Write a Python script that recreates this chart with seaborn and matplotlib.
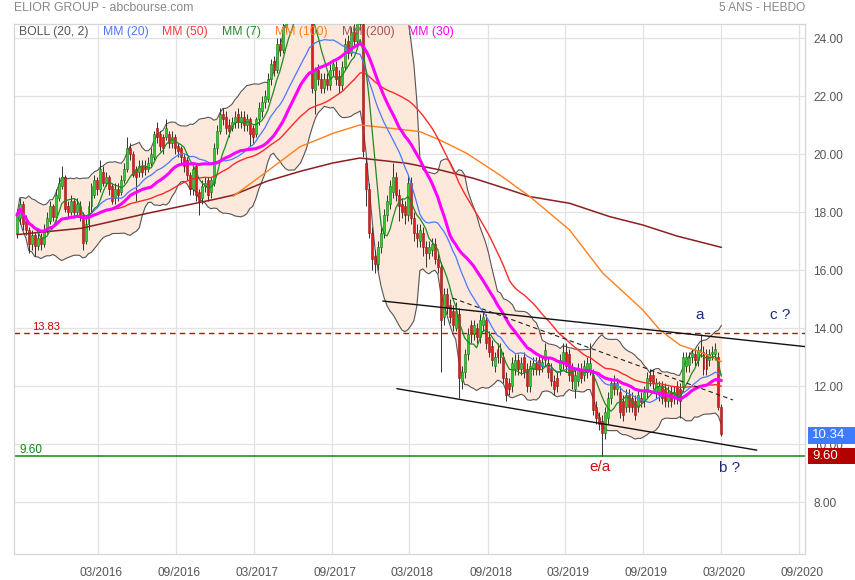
import numpy as np
import pandas as pd
import seaborn as sns
import matplotlib
matplotlib.use("Agg")
import matplotlib.pyplot as plt
import matplotlib.transforms as mtransforms
from matplotlib.patches import Rectangle

sns.set_style("white")
plt.rcParams['font.family'] = ['Liberation Sans', 'DejaVu Sans']

# ---------------------------------------------------------------------------- #
#                         Weekly candles (ELIOR GROUP)                          #
# ---------------------------------------------------------------------------- #
first_week = "2015-08-24"

opens = [
    17.3, 17.8, 18.3, 17.7, 17.4, 16.9, 17.2, 16.85, 17.1, 16.9,
    17.4, 17.7, 18.2, 17.85, 18.5, 18.9, 19.2, 18.2, 18.0, 18.4,
    18.0, 18.2, 17.9, 17.0, 17.6, 18.2, 18.6, 19.1, 18.8, 19.4,
    19.0, 19.2, 18.9, 18.5, 18.8, 18.7, 19.1, 19.5, 20.2, 20.0,
    19.5, 19.4, 19.6, 19.6, 19.5, 19.7, 19.9, 20.9, 20.7, 20.6,
    20.6, 20.7, 20.4, 20.6, 20.3, 20.2, 19.9, 19.8, 19.3, 18.8,
    19.6, 18.7, 18.5, 18.9, 19.1, 18.7, 19.0, 20.2, 20.8, 21.4,
    21.3, 21.0, 20.9, 21.1, 21.4, 21.1, 21.3, 21.0, 21.2, 20.9,
    20.7, 21.2, 21.5, 21.8, 21.9, 22.6, 23.2, 22.9, 23.8, 23.6,
    24.4, 24.9, 25.2, 25.0, 25.4, 25.1, 25.3, 25.0, 24.9, 25.1,
    22.2, 22.9, 22.6, 22.3, 22.6, 22.4, 22.9, 23.0, 22.7, 22.4,
    23.0, 23.9, 23.5, 24.2, 23.9, 24.5, 24.5, 19.7, 18.8, 17.3,
    16.5, 16.2, 16.8, 17.3, 17.9, 18.3, 18.7, 19.2, 18.6, 18.3,
    18.2, 17.9, 19.0, 17.8, 17.3, 17.0, 17.3, 16.8, 16.6, 16.7,
    16.9, 16.4, 16.1, 14.4, 15.2, 14.8, 14.6, 14.0, 14.5, 12.2,
    12.5, 13.1, 14.1, 13.8, 14.0, 13.7, 14.1, 14.3, 13.7, 13.4,
    12.7, 13.3, 13.0, 13.0, 12.3, 12.1, 12.0, 12.6, 12.9, 12.6,
    13.0, 12.6, 12.0, 12.6, 12.8, 12.9, 12.7, 12.9, 12.8, 12.6,
    12.2, 12.3, 12.6, 12.8, 13.2, 13.1, 12.6, 11.9, 12.2, 12.6,
    12.4, 12.5, 12.6, 12.4, 11.3, 10.95, 10.8, 10.4, 10.9, 11.6,
    12.1, 11.9, 11.8, 11.5, 11.3, 11.7, 11.6, 11.5, 11.3, 11.6,
    11.5, 11.8, 12.4, 12.4, 11.8, 11.7, 12.0, 11.9, 11.5, 11.8,
    11.6, 12.0, 11.9, 12.0, 12.7, 12.75, 13.0, 13.1, 12.9, 13.2,
    13.2, 13.1, 12.9, 13.1, 13.1, 13.0, 11.3,
]
highs = [
    18.1, 18.5, 18.4, 17.9, 17.5, 17.4, 17.3, 17.3, 17.3, 17.6,
    18.0, 18.4, 18.3, 18.8, 19.2, 19.6, 19.3, 18.4, 18.6, 18.5,
    18.5, 18.4, 18.0, 17.8, 18.4, 19.0, 19.3, 19.2, 19.8, 19.6,
    19.4, 19.3, 19.0, 19.0, 19.0, 19.3, 19.7, 20.6, 20.4, 20.1,
    19.6, 19.8, 19.8, 19.8, 19.9, 20.2, 20.8, 21.1, 20.8, 20.7,
    21.2, 20.8, 20.8, 20.7, 20.4, 20.3, 20.0, 19.9, 19.4, 19.6,
    19.7, 18.8, 19.1, 19.2, 19.2, 19.2, 20.4, 21.0, 21.6, 21.6,
    21.5, 21.2, 21.3, 21.5, 21.6, 21.5, 21.5, 21.4, 21.3, 21.0,
    21.3, 21.8, 22.0, 22.2, 22.8, 23.3, 23.4, 24.0, 24.0, 24.6,
    25.1, 25.5, 25.5, 25.7, 25.7, 25.5, 25.6, 25.3, 25.3, 25.2,
    23.0, 23.1, 22.8, 22.8, 22.8, 23.1, 23.3, 23.2, 22.9, 23.2,
    24.0, 24.1, 24.4, 24.5, 25.0, 25.1, 24.8, 19.9, 19.0, 17.5,
    16.7, 17.0, 17.5, 18.1, 18.6, 19.1, 19.7, 19.4, 18.8, 18.5,
    18.4, 19.3, 19.2, 18.0, 17.6, 17.6, 17.5, 17.0, 17.0, 17.1,
    17.1, 16.6, 16.3, 15.4, 15.4, 15.0, 14.8, 14.9, 14.7, 12.7,
    13.3, 14.0, 14.3, 14.3, 14.2, 14.5, 14.6, 14.5, 13.9, 13.6,
    13.2, 13.5, 13.5, 13.2, 12.5, 12.3, 13.0, 13.1, 13.1, 13.0,
    13.2, 12.8, 12.9, 13.0, 13.0, 13.1, 13.0, 13.5, 13.0, 12.8,
    12.4, 12.5, 13.1, 13.5, 13.5, 13.3, 12.8, 12.6, 12.8, 12.8,
    12.9, 13.0, 13.5, 12.6, 11.5, 11.1, 11.0, 11.3, 11.8, 12.3,
    12.4, 12.3, 12.0, 11.7, 11.9, 11.9, 11.8, 11.7, 11.9, 11.8,
    12.0, 12.5, 12.6, 12.6, 12.3, 12.2, 12.2, 12.1, 12.0, 12.0,
    12.0, 12.2, 12.1, 13.2, 13.2, 13.2, 13.3, 13.3, 13.4, 13.8,
    13.4, 13.3, 13.3, 13.4, 13.5, 13.2, 11.4,
]
lows = [
    17.1, 17.6, 17.4, 17.2, 16.6, 16.7, 16.5, 16.7, 16.7, 16.8,
    17.3, 17.6, 17.7, 17.7, 18.4, 18.8, 18.0, 17.8, 17.9, 17.8,
    17.9, 17.7, 16.7, 16.9, 17.4, 18.0, 18.5, 18.6, 18.7, 18.9,
    18.9, 18.6, 18.3, 18.3, 18.4, 18.6, 19.0, 19.4, 19.8, 19.2,
    18.4, 19.2, 19.2, 19.3, 19.4, 19.6, 19.8, 20.4, 20.1, 20.0,
    20.5, 20.2, 20.2, 20.0, 19.9, 19.7, 19.4, 19.1, 18.6, 18.6,
    18.4, 17.9, 18.3, 18.7, 18.4, 18.5, 18.9, 20.0, 20.7, 21.0,
    20.7, 20.6, 20.8, 20.9, 20.9, 20.9, 20.8, 20.8, 20.3, 20.4,
    20.6, 21.0, 21.3, 21.6, 21.8, 22.4, 22.7, 22.8, 23.4, 23.5,
    24.2, 24.6, 24.8, 24.8, 24.9, 24.8, 24.8, 24.7, 24.7, 22.1,
    21.4, 22.4, 22.1, 22.1, 22.2, 22.2, 22.7, 22.4, 22.1, 22.2,
    22.9, 23.3, 23.4, 23.7, 23.8, 24.3, 19.9, 18.2, 17.1, 16.0,
    15.9, 16.0, 16.6, 17.1, 17.7, 18.1, 18.5, 18.4, 17.7, 17.8,
    17.6, 17.7, 17.6, 17.0, 16.8, 16.8, 16.5, 16.1, 16.4, 16.5,
    16.2, 15.9, 12.5, 14.1, 14.5, 14.2, 13.9, 13.9, 11.6, 11.9,
    12.3, 12.9, 13.5, 13.6, 13.5, 13.5, 13.9, 13.3, 13.0, 12.7,
    12.5, 12.8, 12.8, 12.1, 11.5, 11.7, 11.8, 12.4, 12.4, 12.4,
    12.3, 11.8, 11.8, 12.4, 12.4, 12.4, 12.5, 12.7, 12.3, 12.0,
    11.7, 11.8, 12.4, 12.6, 12.5, 12.2, 11.9, 11.6, 12.0, 12.1,
    12.2, 12.3, 12.4, 11.0, 10.7, 10.5, 9.6, 10.2, 10.7, 11.4,
    11.7, 11.7, 10.9, 10.8, 11.1, 11.1, 11.1, 10.85, 11.1, 11.3,
    11.3, 11.6, 12.0, 11.9, 11.6, 11.5, 11.4, 11.3, 11.3, 11.3,
    11.4, 11.4, 10.9, 11.8, 12.5, 12.5, 12.8, 12.7, 12.7, 13.0,
    12.4, 12.4, 12.7, 12.9, 12.9, 11.2, 10.3,
]
closes = [
    17.9, 18.3, 17.6, 17.4, 16.9, 17.2, 16.85, 17.1, 16.9, 17.4,
    17.8, 18.2, 17.85, 18.6, 19.0, 19.2, 18.1, 18.0, 18.4, 18.0,
    18.3, 17.9, 16.95, 17.6, 18.2, 18.9, 19.1, 18.8, 19.5, 19.0,
    19.2, 18.8, 18.4, 18.8, 18.6, 19.1, 19.5, 20.2, 20.0, 19.3,
    19.2, 19.6, 19.4, 19.5, 19.7, 20.0, 20.7, 20.6, 20.3, 20.2,
    20.9, 20.4, 20.6, 20.2, 20.1, 19.9, 19.6, 19.3, 18.8, 19.5,
    18.6, 18.4, 18.9, 19.0, 18.6, 19.1, 20.2, 20.8, 21.4, 21.2,
    20.9, 20.8, 21.1, 21.3, 21.1, 21.3, 21.0, 21.2, 20.7, 20.6,
    21.2, 21.6, 21.8, 22.0, 22.6, 23.1, 22.9, 23.8, 23.6, 24.4,
    24.9, 25.2, 25.0, 25.4, 25.1, 25.3, 25.0, 24.9, 25.1, 22.3,
    22.9, 22.6, 22.3, 22.6, 22.4, 22.9, 23.1, 22.6, 22.4, 23.0,
    23.8, 23.5, 24.2, 23.9, 24.6, 24.7, 20.1, 18.8, 17.3, 16.4,
    16.2, 16.8, 17.3, 17.9, 18.4, 18.9, 19.2, 18.6, 18.2, 18.0,
    17.9, 19.0, 17.8, 17.3, 17.1, 17.4, 16.8, 16.6, 16.8, 16.9,
    16.4, 16.1, 14.3, 15.2, 14.7, 14.4, 14.1, 14.6, 12.3, 12.5,
    13.1, 13.8, 13.8, 14.1, 13.7, 14.3, 14.4, 13.5, 13.2, 12.9,
    13.0, 13.0, 13.3, 12.3, 11.7, 11.9, 12.8, 12.9, 12.6, 12.8,
    12.5, 12.0, 12.7, 12.8, 12.6, 12.6, 12.85, 13.25, 12.5, 12.2,
    11.9, 12.0, 12.9, 13.2, 12.7, 12.4, 12.2, 12.4, 12.6, 12.3,
    12.7, 12.8, 12.8, 11.2, 10.9, 10.7, 10.4, 11.1, 11.6, 12.1,
    11.9, 12.1, 11.1, 11.0, 11.7, 11.3, 11.3, 11.0, 11.7, 11.45,
    11.8, 12.3, 12.2, 12.1, 12.1, 12.0, 11.6, 11.5, 11.8, 11.5,
    11.8, 11.6, 11.5, 13.0, 13.0, 13.0, 13.15, 12.9, 13.25, 13.3,
    12.6, 12.6, 13.1, 13.2, 13.3, 11.3, 10.34,
]

# long moving averages (history before the window)
mm100_dates = ["2017-01-12", "2017-04-01", "2017-06-18", "2017-09-03", "2017-11-05",
               "2018-01-14", "2018-03-26", "2018-05-12", "2018-07-14", "2018-09-30",
               "2018-12-09", "2019-03-12", "2019-05-29", "2019-08-31", "2019-10-10",
               "2019-11-26", "2020-01-12", "2020-03-02"]
mm100_values = [18.55, 19.40, 20.26, 20.72, 21.01,
                20.90, 20.78, 20.49, 20.03, 19.28,
                18.54, 17.39, 15.90, 14.63, 13.94,
                13.42, 13.19, 12.85]
mm200_dates = ["2015-08-24", "2016-01-23", "2016-06-27", "2016-12-01", "2017-01-12",
               "2017-04-01", "2017-06-18", "2017-09-03", "2017-11-05", "2018-02-23",
               "2018-05-12", "2018-07-30", "2018-09-30", "2018-12-09", "2019-03-12",
               "2019-06-14", "2019-08-31", "2019-11-19", "2020-03-02"]
mm200_values = [17.23, 17.45, 17.97, 18.45, 18.59,
                19.07, 19.41, 19.70, 19.87, 19.69,
                19.46, 19.17, 18.88, 18.54, 18.31,
                17.85, 17.56, 17.18, 16.79]

# drawn trend lines and levels
channel_top_dates = ["2017-12-29", "2020-09-14"]
channel_top_prices = [14.94, 13.37]
channel_bottom_dates = ["2018-01-31", "2020-05-24"]
channel_bottom_prices = [11.92, 9.80]
dashed_dates = ["2018-06-11", "2020-03-29"]
dashed_prices = [15.04, 11.53]
resistance = 13.83
support = 9.60
last_price = 10.34

wave_labels = ["a", "c ?", "b ?", "e/a"]
wave_dates = ["2020-01-10", "2020-07-17", "2020-03-20", "2019-05-22"]
wave_prices = [14.46, 14.46, 9.18, 9.22]

legend_labels = ["BOLL (20, 2)", "MM (20)", "MM (50)", "MM (7)", "MM (100)", "MM (200)", "MM (30)"]
legend_colors = ["#555555", "#4a78ff", "#ff3b3b", "#2a8a2a", "#ff7f1e", "#a65454", "#ff00ff"]

y_ticks = [8, 10, 12, 14, 16, 18, 20, 22, 24]
x_ticks = ["2016-03-01", "2016-09-01", "2017-03-01", "2017-09-01", "2018-03-01",
           "2018-09-01", "2019-03-01", "2019-09-01", "2020-03-01", "2020-09-01"]

# ---------------------------------------------------------------------------- #
#                                 Indicators                                   #
# ---------------------------------------------------------------------------- #
df = pd.DataFrame({
    "date": pd.date_range(first_week, periods=len(closes), freq="7D"),
    "open": opens, "high": highs, "low": lows, "close": closes,
})
for n in (7, 20, 30, 50):
    df[f"mm{n}"] = df["close"].rolling(n, min_periods=1).mean()
sd = df["close"].rolling(20, min_periods=1).std(ddof=0)
df["boll_up"] = df["mm20"] + 2 * sd
df["boll_dn"] = df["mm20"] - 2 * sd

mm100 = pd.DataFrame({"date": pd.to_datetime(mm100_dates), "value": mm100_values})
mm200 = pd.DataFrame({"date": pd.to_datetime(mm200_dates), "value": mm200_values})

# ---------------------------------------------------------------------------- #
#                                   Figure                                     #
# ---------------------------------------------------------------------------- #
W, H = 855, 580
fig = plt.figure(figsize=(W / 100, H / 100), dpi=100)
ax = fig.add_axes([14.3 / W, 1 - 554.3 / H, 790.7 / W, 530.3 / H])

# bollinger band
ax.fill_between(df["date"], df["boll_dn"], df["boll_up"], color="#fde8dc", lw=0, zorder=1)
sns.lineplot(data=df, x="date", y="boll_up", ax=ax, color="#555555", lw=0.8, zorder=2)
sns.lineplot(data=df, x="date", y="boll_dn", ax=ax, color="#555555", lw=0.8, zorder=2)

# levels
ax.axhline(resistance, color="#cc0000", lw=1, ls=(0, (4, 3)), zorder=2)
ax.axhline(support, color="#118811", lw=1.1, zorder=2)

# candles
up = df["close"] >= df["open"]
ax.vlines(df["date"], df["low"], df["high"], color="#333333", lw=0.7, zorder=3)
ax.bar(df["date"][up], (df["close"] - df["open"])[up], bottom=df["open"][up],
       width=4.6, color="#33cc33", edgecolor="#117711", lw=0.4, zorder=3.5)
ax.bar(df["date"][~up], (df["open"] - df["close"])[~up], bottom=df["close"][~up],
       width=4.6, color="#e01d1d", edgecolor="#991111", lw=0.4, zorder=3.5)

# moving averages
sns.lineplot(data=mm200, x="date", y="value", ax=ax, color="#8b1f1f", lw=1.1, zorder=4)
sns.lineplot(data=mm100, x="date", y="value", ax=ax, color="#ff7f1e", lw=1.0, zorder=4)
sns.lineplot(data=df, x="date", y="mm50", ax=ax, color="#ff2a2a", lw=1.0, zorder=4)
sns.lineplot(data=df, x="date", y="mm20", ax=ax, color="#4a78ff", lw=0.9, zorder=4)
sns.lineplot(data=df, x="date", y="mm7", ax=ax, color="#1e8a1e", lw=0.9, zorder=4)
sns.lineplot(data=df, x="date", y="mm30", ax=ax, color="#ff00ff", lw=2.2, zorder=4.5)

# trend lines
ax.plot(pd.to_datetime(channel_top_dates), channel_top_prices, color="#111111", lw=1.0, zorder=5)
ax.plot(pd.to_datetime(channel_bottom_dates), channel_bottom_prices, color="#111111", lw=1.0, zorder=5)
ax.plot(pd.to_datetime(dashed_dates), dashed_prices, color="#222222", lw=0.8, ls=(0, (4, 3)), zorder=5)

# wave labels
for lab, d, p in zip(wave_labels, wave_dates, wave_prices):
    col = "#cc1111" if lab == "e/a" else "#1f2a7a"
    ax.text(pd.Timestamp(d), p, lab, color=col, fontsize=11, ha="center", va="center", zorder=6)

# level labels
ax.text(0.022, resistance + 0.22, f"{resistance:.2f}", transform=ax.get_yaxis_transform(),
        color="#cc0000", fontsize=8, ha="left", va="center")
ax.text(0.006, support + 0.22, f"{support:.2f}", transform=ax.get_yaxis_transform(),
        color="#118811", fontsize=8.5, ha="left", va="center")

# axes setup
ax.set_xlim(pd.Timestamp("2015-08-18"), pd.Timestamp("2020-09-14"))
ax.set_ylim(6.21, 24.49)
ax.set_xlabel("")
ax.set_ylabel("")
ax.set_xticks(pd.to_datetime(x_ticks))
ax.set_xticklabels([pd.Timestamp(t).strftime("%m/%Y") for t in x_ticks])
ax.set_yticks(y_ticks)
ax.set_yticklabels([f"{v:.2f}" for v in y_ticks])
ax.yaxis.tick_right()
ax.tick_params(axis="both", length=0, labelsize=8.6, labelcolor="#555555")
ax.tick_params(axis="x", pad=9)
ax.tick_params(axis="y", pad=6)
shift = mtransforms.ScaledTranslation(3 / 100, 0, fig.dpi_scale_trans)
for lbl in ax.get_xticklabels():
    lbl.set_transform(lbl.get_transform() + shift)
ax.grid(True, color="#e2e2e2", lw=0.9)
ax.set_axisbelow(True)
for s in ax.spines.values():
    s.set_color("#d6d6d6")
    s.set_linewidth(0.9)

# price boxes on the right (they sit over the 10.00 tick label, as on the site)
box_w = 47 / 790.7
for val, face, yc in [(last_price, "#3d7bff", 10.31), (support, "#b30000", support)]:
    ax.add_patch(Rectangle((1.004, yc - 0.29), box_w, 0.58, transform=ax.get_yaxis_transform(),
                           facecolor=face, edgecolor="none", clip_on=False, zorder=10))
    ax.text(1.009, yc, f"{val:.2f}", transform=ax.get_yaxis_transform(), color="white",
            fontsize=9.5, ha="left", va="center", zorder=11, clip_on=False)

# legend row
legend_x = [19, 103, 162, 222, 275, 342, 408]
for lab, col, px in zip(legend_labels, legend_colors, legend_x):
    ax.text((px - 14.3) / 790.7, 1 - 8 / 530.3, lab, transform=ax.transAxes, color=col,
            fontsize=8.8, ha="left", va="center", zorder=12)

fig.text(14 / W, 1 - 8 / H, "ELIOR GROUP - abcbourse.com", color="#888888", fontsize=8.8,
         ha="left", va="center")
fig.text(805 / W, 1 - 8 / H, "5 ANS - HEBDO", color="#888888", fontsize=8.6,
         ha="right", va="center")

fig.savefig("out.png", dpi=100)
